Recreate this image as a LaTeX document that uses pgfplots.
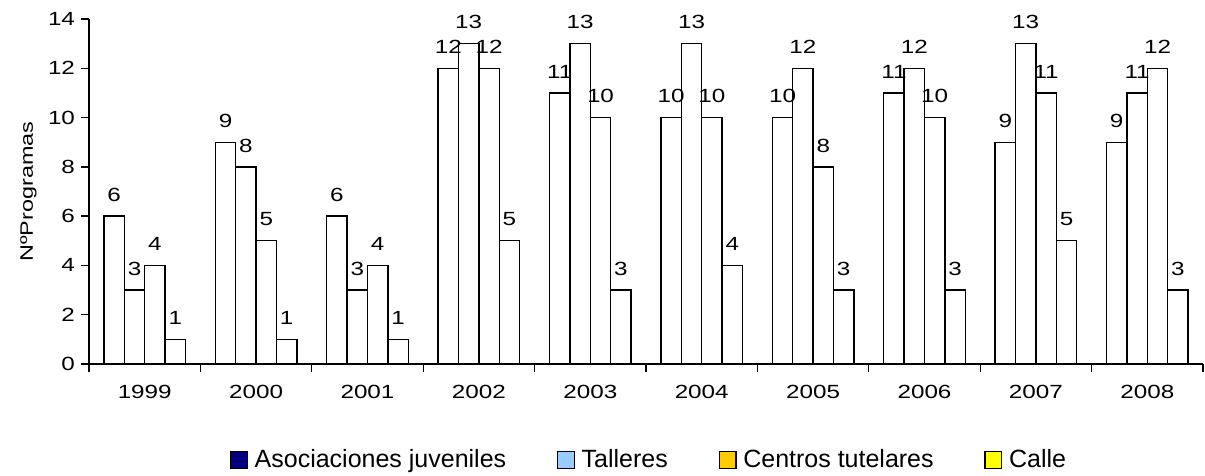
\documentclass[border=0pt]{standalone}
\usepackage{fontspec}
\setmainfont{Liberation Sans}
\newfontfamily\tickfont{Liberation Sans}[FakeStretch=1.27]
\newfontfamily\labfont{Liberation Sans}[FakeStretch=1.3]
\usepackage{pgfplots}
\pgfplotsset{compat=1.18}
\definecolor{cAso}{HTML}{000080}
\definecolor{cTal}{HTML}{99CCFF}
\definecolor{cCen}{HTML}{FFCC00}
\definecolor{cCal}{HTML}{FFFF00}
\begin{document}
\begin{tikzpicture}
\useasboundingbox (-66.75pt,-83.25pt) rectangle (837pt,273pt);
\begin{axis}[
  at={(0,0)}, anchor=south west,
  scale only axis, width=835.5pt, height=258.75pt,
  xmin=-0.5, xmax=9.5, ymin=0, ymax=14,
  ybar=0pt, bar width=0.183,
  axis x line=bottom, axis y line=left, axis line style={-, line width=1pt, black},
  xtick={0,...,9},
  xticklabels={1999,2000,2001,2002,2003,2004,2005,2006,2007,2008},
  minor xtick={-0.5,0.5,...,9.5},
  major x tick style={draw=none},
  ytick={0,2,...,14},
  tick align=outside,
  tick style={black, line width=1pt},
  major tick length=6pt, minor tick length=6pt,
  /pgf/number format/assume math mode=true,
  ticklabel style={font=\tickfont\fontsize{14.3}{17}\selectfont},
  xticklabel style={yshift=-6pt},
  yticklabel style={xshift=-1pt},
  every axis y label/.style={at={(axis description cs:0,0.5)}, xshift=-45.5pt, rotate=90, anchor=center, font=\labfont\fontsize{13.5}{16}\selectfont},
  ylabel={NºProgramas},
  nodes near coords,
  every node near coord/.append style={font=\tickfont\fontsize{14.3}{17}\selectfont, inner sep=0pt, yshift=10.5pt, black},
  legend columns=4,
  legend style={draw=none, fill=none, at={(rel axis cs:0.503,-0.278)}, anchor=center,
    font=\fontsize{18.75}{22}\selectfont,
    /tikz/every odd column/.append style={column sep=3pt},
    /tikz/every even column/.append style={column sep=36pt}},
]
\addplot[fill=white, draw=black, line width=1pt, bar shift=-0.2745, forget plot] coordinates {(0,6) (1,9) (2,6) (3,12) (4,11) (5,10) (6,10) (7,11) (8,9) (9,9)};
\addplot[fill=white, draw=black, line width=1pt, bar shift=-0.0915, forget plot] coordinates {(0,3) (1,8) (2,3) (3,13) (4,13) (5,13) (6,12) (7,12) (8,13) (9,11)};
\addplot[fill=white, draw=black, line width=1pt, bar shift=0.0915, forget plot] coordinates {(0,4) (1,5) (2,4) (3,12) (4,10) (5,10) (6,8) (7,10) (8,11) (9,12)};
\addplot[fill=white, draw=black, line width=1pt, bar shift=0.2745, forget plot] coordinates {(0,1) (1,1) (2,1) (3,5) (4,3) (5,4) (6,3) (7,3) (8,5) (9,3)};
\addlegendimage{legend image code/.code={\draw[fill=cAso, draw=black, line width=1.1pt] (0pt,-6.25pt) rectangle (12.5pt,6.25pt);}}
\addlegendimage{legend image code/.code={\draw[fill=cTal, draw=black, line width=1.1pt] (0pt,-6.25pt) rectangle (12.5pt,6.25pt);}}
\addlegendimage{legend image code/.code={\draw[fill=cCen, draw=black, line width=1.1pt] (0pt,-6.25pt) rectangle (12.5pt,6.25pt);}}
\addlegendimage{legend image code/.code={\draw[fill=cCal, draw=black, line width=1.1pt] (0pt,-6.25pt) rectangle (12.5pt,6.25pt);}}
\legend{Asociaciones juveniles, Talleres, Centros tutelares, Calle}
\end{axis}
\end{tikzpicture}
\end{document}
